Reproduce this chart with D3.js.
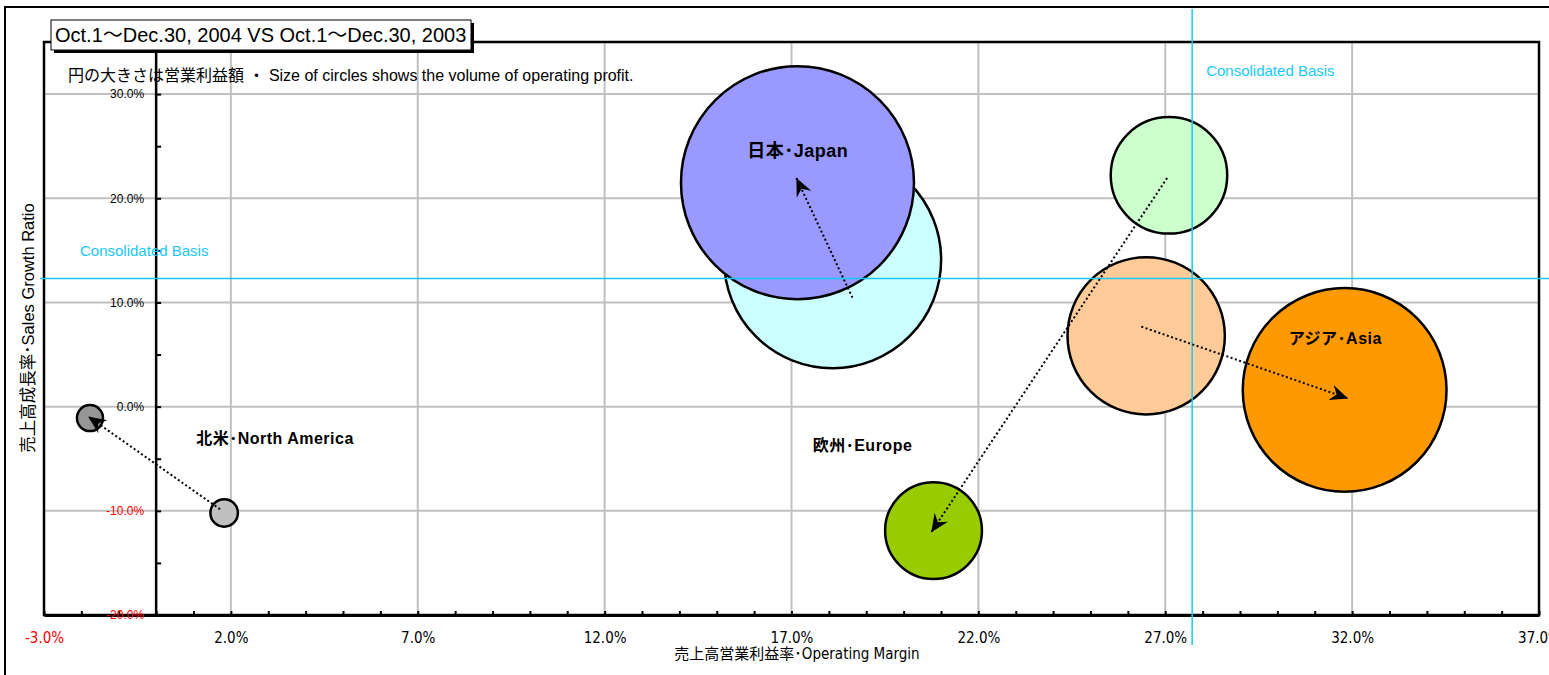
<!DOCTYPE html>
<html>
<head>
<meta charset="utf-8">
<script src="https://cdn.jsdelivr.net/npm/d3@7"></script>
<style>
  body { margin: 0; background: #fff; }
  svg { display: block; }
  .narrow { font-family: "Liberation Sans Narrow", "DejaVu Sans Condensed", "Noto Sans CJK JP", sans-serif; }
  .plain { font-family: "Liberation Sans", Arial, "Noto Sans CJK JP", sans-serif; }
</style>
</head>
<body>
<svg id="chart"></svg>
<script>
// data (margin %, growth %, operating profit)
const regionLabels = ["北米･North America", "日本･Japan", "欧州･Europe", "アジア･Asia"];
const margin2003 = [1.82, 18.1, 27.1, 26.49];
const growth2003 = [-10.2, 14.1, 22.2, 6.8];
const profit2003 = [1.9, 118, 34, 62];
const margin2004 = [-1.77, 17.16, 20.8, 31.8];
const growth2004 = [-1.1, 21.5, -11.9, 1.6];
const profit2004 = [1.7, 136, 23.5, 104];

// hand-drawn arrows in the original (data units)
const arrowFromX = [1.71, 18.63, 27.05, 26.36];
const arrowFromY = [-9.85, 10.46, 21.95, 7.68];
const arrowToX = [-1.82, 17.13, 20.74, 31.89];
const arrowToY = [-0.94, 21.95, -12.05, 0.79];

// label anchors (data units)
const labelX = [3.18, 17.17, 18.9, 31.55];
const labelY = [-3.05, 24.54, -3.72, 6.53];

const consolidatedMargin = 27.72;
const consolidatedGrowth = 12.3;

const xTicks = d3.range(-3, 37.01, 1);
const yTicks = d3.range(-20, 30.01, 5);
const xGrid = [2, 7, 12, 17, 22, 27, 32];
const yGrid = [-10, 0, 10, 20, 30];

const colors2003 = ["#c0c0c0", "#ccffff", "#ccffcc", "#ffcc99"];
const colors2004 = ["#969696", "#9999ff", "#99cc00", "#ff9900"];
const labelSizes = [16, 18, 16, 16];
const CYAN = "#19c8f5";

const WIDTH = 1549, HEIGHT = 675;
const PLOT = { left: 44, right: 1539, top: 42, bottom: 615 };

const svg = d3.select("#chart")
    .attr("width", WIDTH)
    .attr("height", HEIGHT);

const x = d3.scaleLinear().domain([-3, 37]).range([PLOT.left, PLOT.right]);
const y = d3.scaleLinear().domain([-20, 35]).range([PLOT.bottom, PLOT.top]);
const r = d3.scaleSqrt().domain([0, d3.max(profit2004)]).range([0, 116.5]);

// outer chart frame
svg.append("path")
    .attr("d", `M5,${HEIGHT + 5} V7 H${WIDTH + 5}`)
    .attr("fill", "none")
    .attr("stroke", "#000")
    .attr("stroke-width", 2);

// grid
svg.append("g").selectAll("line")
    .data(yGrid)
    .enter()
    .append("line")
    .attr("x1", PLOT.left).attr("x2", PLOT.right)
    .attr("y1", d => y(d)).attr("y2", d => y(d))
    .attr("stroke", "#c0c0c0")
    .attr("stroke-width", 2);

svg.append("g").selectAll("line")
    .data(xGrid)
    .enter()
    .append("line")
    .attr("x1", d => x(d)).attr("x2", d => x(d))
    .attr("y1", PLOT.top).attr("y2", PLOT.bottom)
    .attr("stroke", "#c0c0c0")
    .attr("stroke-width", 2);

// plot frame
svg.append("rect")
    .attr("x", PLOT.left).attr("y", PLOT.top)
    .attr("width", PLOT.right - PLOT.left)
    .attr("height", PLOT.bottom - PLOT.top)
    .attr("fill", "none")
    .attr("stroke", "#000")
    .attr("stroke-width", 2.5);

// x axis
const xAxis = svg.append("g")
    .attr("class", "narrow")
    .attr("transform", `translate(0,${PLOT.bottom})`)
    .call(d3.axisBottom(x)
        .tickValues(xTicks)
        .tickSizeInner(-4)
        .tickSizeOuter(0)
        .tickPadding(17)
        .tickFormat(d => (d + 3) % 5 === 0 ? d.toFixed(1) + "%" : ""));
xAxis.select(".domain").attr("stroke-width", 3);
xAxis.selectAll(".tick line").attr("stroke-width", 2);
xAxis.selectAll("text")
    .attr("font-size", 15)
    .attr("fill", d => d < 0 ? "#ff0000" : "#000");

// y axis on the 0% line
const yAxis = svg.append("g")
    .attr("class", "plain")
    .attr("transform", `translate(${x(0)},0)`)
    .call(d3.axisLeft(y)
        .tickValues(yTicks)
        .tickSizeInner(-5)
        .tickSizeOuter(0)
        .tickPadding(12)
        .tickFormat(d => d % 10 === 0 ? d.toFixed(1) + "%" : ""));
yAxis.select(".domain")
    .attr("d", `M0,${PLOT.top}V${PLOT.bottom}`)
    .attr("stroke-width", 2.5);
yAxis.selectAll(".tick line").attr("stroke-width", 2);
yAxis.selectAll("text")
    .attr("font-size", 12)
    .attr("fill", d => d < 0 ? "#ff0000" : "#000");

// axis titles
svg.append("text")
    .attr("class", "narrow")
    .attr("x", 797).attr("y", 659)
    .attr("text-anchor", "middle")
    .attr("font-size", 15)
    .text("売上高営業利益率･Operating Margin");

svg.append("text")
    .attr("class", "plain")
    .attr("transform", "translate(34,328) rotate(-90)")
    .attr("text-anchor", "middle")
    .attr("font-size", 16.5)
    .text("売上高成長率･Sales Growth Ratio");

// bubbles: 2003 first, 2004 on top
const bubbles = svg.append("g");
[[margin2003, growth2003, profit2003, colors2003], [margin2004, growth2004, profit2004, colors2004]]
    .forEach(([mx, gy, pf, col]) => {
        bubbles.selectAll(null)
            .data(d3.range(regionLabels.length))
            .enter()
            .append("circle")
            .attr("cx", i => x(mx[i]))
            .attr("cy", i => y(gy[i]))
            .attr("r", i => r(pf[i]))
            .attr("fill", i => col[i])
            .attr("stroke", "#000")
            .attr("stroke-width", 2.5);
    });

// consolidated basis lines
svg.append("line")
    .attr("x1", PLOT.left - 4).attr("x2", WIDTH)
    .attr("y1", y(consolidatedGrowth)).attr("y2", y(consolidatedGrowth))
    .attr("stroke", CYAN)
    .attr("stroke-width", 1.5);
svg.append("line")
    .attr("x1", x(consolidatedMargin)).attr("x2", x(consolidatedMargin))
    .attr("y1", 9).attr("y2", 645)
    .attr("stroke", CYAN)
    .attr("stroke-width", 1.5);

svg.append("text")
    .attr("class", "plain")
    .attr("x", 80).attr("y", y(consolidatedGrowth) - 22)
    .attr("font-size", 15)
    .attr("fill", CYAN)
    .text("Consolidated Basis");
svg.append("text")
    .attr("class", "plain")
    .attr("x", x(consolidatedMargin) + 14).attr("y", 76)
    .attr("font-size", 15)
    .attr("fill", CYAN)
    .text("Consolidated Basis");

// arrows
svg.append("defs").append("marker")
    .attr("id", "stealth")
    .attr("markerUnits", "userSpaceOnUse")
    .attr("viewBox", "-18 -9 20 18")
    .attr("refX", 0).attr("refY", 0)
    .attr("markerWidth", 20).attr("markerHeight", 18)
    .attr("orient", "auto")
    .append("path")
    .attr("d", "M0,0 L-18,-8 L-12,0 L-18,8 Z")
    .attr("fill", "#000");

svg.append("g").selectAll("line")
    .data(d3.range(regionLabels.length))
    .enter()
    .append("line")
    .attr("x1", i => x(arrowFromX[i]))
    .attr("y1", i => y(arrowFromY[i]))
    .attr("x2", i => x(arrowToX[i]))
    .attr("y2", i => y(arrowToY[i]))
    .attr("stroke", "#000")
    .attr("stroke-width", 2)
    .attr("stroke-dasharray", "2,2.5")
    .attr("marker-end", "url(#stealth)");

// region labels
svg.append("g").selectAll("text")
    .data(d3.range(regionLabels.length))
    .enter()
    .append("text")
    .attr("class", "plain")
    .attr("x", i => x(labelX[i]))
    .attr("y", i => y(labelY[i]))
    .attr("dy", "0.35em")
    .attr("text-anchor", "middle")
    .attr("font-weight", "bold")
    .attr("font-size", i => labelSizes[i])
    .attr("letter-spacing", 0.5)
    .text(i => regionLabels[i]);

// note on circle size
svg.append("text")
    .attr("class", "plain")
    .attr("x", 68).attr("y", 81)
    .attr("font-size", 16)
    .text("円の大きさは営業利益額 ・ Size of circles shows the volume of operating profit.");

// period title box with shadow
const title = svg.append("g");
title.append("rect")
    .attr("x", 54).attr("y", 23)
    .attr("width", 420).attr("height", 30)
    .attr("fill", "#000");
title.append("rect")
    .attr("x", 51).attr("y", 20)
    .attr("width", 420).attr("height", 30)
    .attr("fill", "#fff")
    .attr("stroke", "#000")
    .attr("stroke-width", 1);
title.append("text")
    .attr("class", "plain")
    .attr("x", 55).attr("y", 42)
    .attr("font-size", 20)
    .text("Oct.1～Dec.30, 2004 VS Oct.1～Dec.30, 2003");
</script>
</body>
</html>
